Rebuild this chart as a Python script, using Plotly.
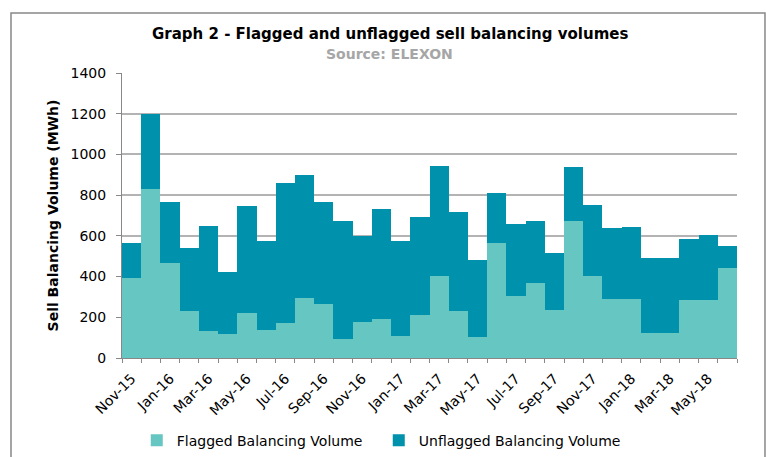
import plotly.graph_objects as go

months = ["Nov-15", "Dec-15", "Jan-16", "Feb-16", "Mar-16", "Apr-16", "May-16", "Jun-16",
          "Jul-16", "Aug-16", "Sep-16", "Oct-16", "Nov-16", "Dec-16", "Jan-17", "Feb-17",
          "Mar-17", "Apr-17", "May-17", "Jun-17", "Jul-17", "Aug-17", "Sep-17", "Oct-17",
          "Nov-17", "Dec-17", "Jan-18", "Feb-18", "Mar-18", "Apr-18", "May-18", "Jun-18"]

flagged = [395, 830, 466, 232, 131, 116, 222, 139, 172, 297, 263, 93, 175, 194, 106, 209,
           405, 232, 105, 565, 306, 368, 235, 673, 404, 291, 288, 121, 124, 283, 283, 444]

total = [565, 1200, 768, 541, 650, 423, 748, 575, 859, 900, 765, 673, 598, 734, 574, 694,
         941, 719, 482, 812, 659, 672, 515, 938, 753, 637, 645, 493, 490, 587, 603, 549]

unflagged = [t - f for t, f in zip(total, flagged)]

tick_text = [m if i % 2 == 0 else "" for i, m in enumerate(months)]

FONT = "Tahoma, 'DejaVu Sans', Verdana, sans-serif"

fig = go.Figure()
fig.add_trace(go.Bar(x=months, y=flagged, name="Flagged Balancing Volume",
                     marker=dict(color="#66C6C1", line=dict(width=0))))
fig.add_trace(go.Bar(x=months, y=unflagged, name="Unflagged Balancing Volume",
                     marker=dict(color="#0091AC", line=dict(width=0))))

fig.update_layout(
    template="none",
    barmode="stack",
    bargap=0,
    width=766, height=457,
    margin=dict(l=122, r=29, t=73, b=99, autoexpand=False),
    paper_bgcolor="white", plot_bgcolor="white",
    font=dict(family=FONT, size=13, color="#000000"),
    showlegend=True,
    legend=dict(orientation="h", x=0.024, y=-0.29, xanchor="left", yanchor="middle",
                font=dict(size=14), traceorder="normal",
                entrywidth=197, entrywidthmode="pixels",
                bgcolor="rgba(0,0,0,0)"),
    xaxis=dict(type="category", tickmode="array", tickvals=months, ticktext=tick_text,
               tickangle=-45, tickson="boundaries", ticks="outside", ticklen=4,
               tickcolor="#888888", showline=True, linecolor="#888888", linewidth=1,
               showgrid=False, tickfont=dict(size=14), automargin=False,
               ticklabelstandoff=6),
    yaxis=dict(range=[0, 1400], dtick=200, ticks="outside", ticklen=5, tickcolor="#888888",
               showline=True, linecolor="#888888", linewidth=1,
               showgrid=True, gridcolor="#B3B3B3", gridwidth=1.5, zeroline=False,
               tickfont=dict(size=14), automargin=False, ticklabelstandoff=7,
               title=dict(text="<b>Sell Balancing Volume (MWh)</b>", font=dict(size=14),
                          standoff=8)),
    annotations=[
        dict(text="<b>Graph 2 - Flagged and unflagged sell balancing volumes</b>",
             xref="paper", yref="paper", x=0.435, y=1.0, yshift=39, showarrow=False,
             font=dict(size=15, color="#000000"), xanchor="center", yanchor="middle"),
        dict(text="<b>Source: ELEXON</b>",
             xref="paper", yref="paper", x=0.435, y=1.0, yshift=19, showarrow=False,
             font=dict(size=14, color="#A6A6A6"), xanchor="center", yanchor="middle"),
    ],
    shapes=[
        dict(type="rect", xref="paper", yref="paper",
             x0=-0.1805, x1=1.0455, y0=-0.5, y1=1.2105,
             line=dict(color="#888888", width=1.5), fillcolor="rgba(0,0,0,0)", layer="below"),
    ],
)

fig.write_html("out.html", config={"displayModeBar": False},
               post_script="document.body.style.margin='0';document.body.style.padding='0';")
